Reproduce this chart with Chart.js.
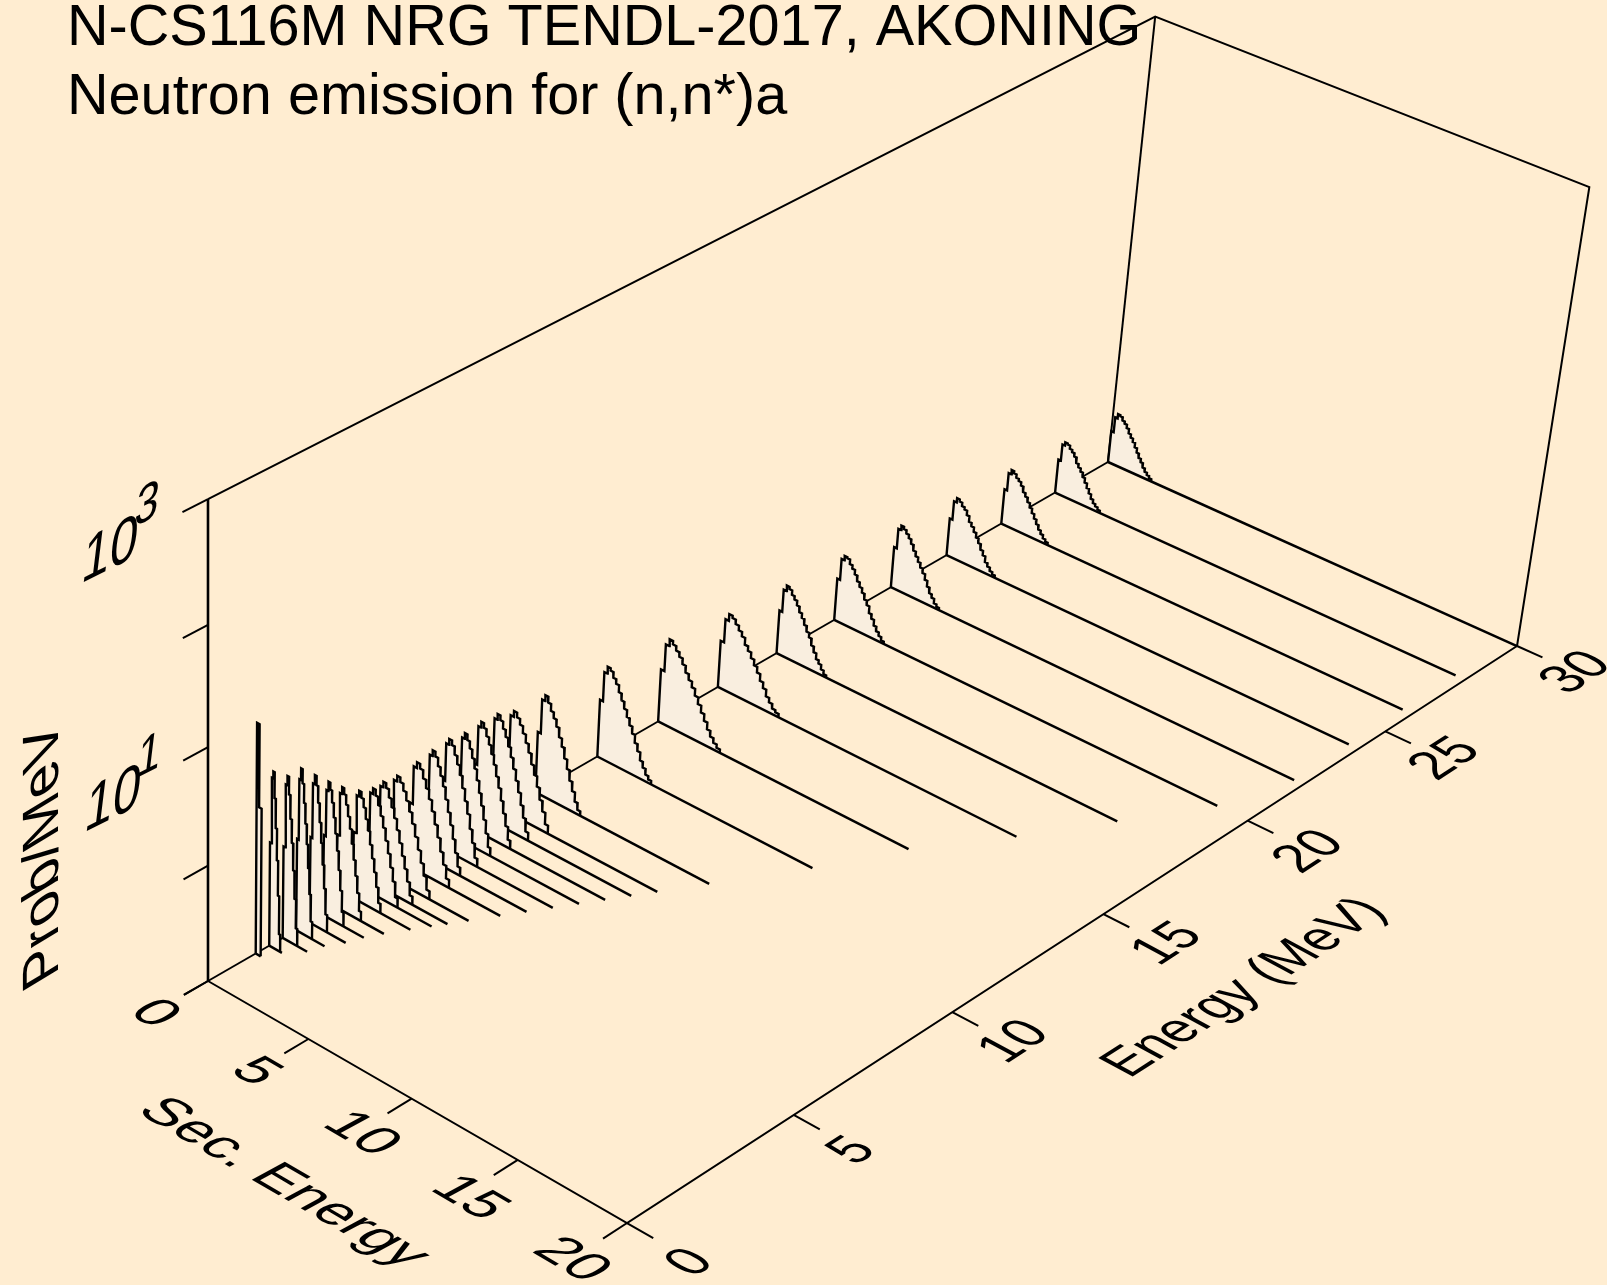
<!DOCTYPE html>
<html>
<head>
<meta charset="utf-8">
<title>N-CS116M neutron emission</title>
<script src="https://cdn.jsdelivr.net/npm/chart.js@4"></script>
<style>
  html, body { margin: 0; padding: 0; background: #FFEDD1; }
  canvas { display: block; }
</style>
</head>
<body>
<canvas id="chart3d" width="1607" height="1285"></canvas>
<script>
const titleLines = ['N-CS116M NRG TENDL-2017, AKONING', 'Neutron emission for (n,n*)a'];
const secTicks = [0, 5, 10, 15, 20];
const energyTicks = [0, 5, 10, 15, 20, 25, 30];
const probTicks = [-1, 0, 1, 2, 3];

// incident energy of each spectrum (MeV), back to front
const incidentEnergy = [30, 28, 26, 24, 22, 20, 18, 16, 14, 12, 10, 9, 8.5, 8, 7.5, 7, 6.5, 6, 5.4, 5, 4.7, 4.3, 3.8, 3.4, 3, 2.6, 2.2, 1.8, 1.4];
// last secondary energy of the base line
const baseEnd = [20, 19.56, 19.56, 19.56, 19.57, 18.6, 16.6, 14.6, 12.3, 10.6, 8.6, 7.6, 7.1, 6.6, 6.1, 5.6, 5.1, 4.6, 4.0, 3.6, 3.3, 2.9, 2.4, 2.06, 1.82, 1.43, 1.23, 0.64, 0.25];
// secondary energy where the spectrum leaves the plot floor
const spectrumEnd = [2.2, 2.27, 2.35, 2.44, 2.43, 2.5, 2.5, 3.05, 3.1, 2.7, 2.25, 2.2, 2.0, 1.9, 1.7, 1.85, 1.8, 2.05, 2.05, 1.85, 1.6, 1.4, 1.25, 1.04, 0.88, 0.8, 0.73, 0.55, 0.25];
// log10(prob/MeV) in equal steps from zero up to spectrumEnd
const log10Prob = [
  [-0.71, -0.57, -0.53, -0.54, -0.57, -0.59, -0.62, -0.66, -0.69, -0.72, -0.76, -0.8, -0.84, -0.87, -0.91, -0.94, -0.96, -0.98],
  [-0.69, -0.54, -0.51, -0.52, -0.55, -0.57, -0.6, -0.65, -0.68, -0.71, -0.75, -0.79, -0.83, -0.87, -0.91, -0.94, -0.96, -0.98],
  [-0.68, -0.52, -0.48, -0.5, -0.53, -0.55, -0.58, -0.63, -0.66, -0.7, -0.74, -0.78, -0.82, -0.86, -0.9, -0.93, -0.96, -0.98],
  [-0.66, -0.49, -0.45, -0.47, -0.5, -0.52, -0.56, -0.61, -0.64, -0.68, -0.72, -0.76, -0.81, -0.85, -0.9, -0.93, -0.96, -0.98],
  [-0.63, -0.45, -0.41, -0.43, -0.46, -0.49, -0.53, -0.58, -0.62, -0.66, -0.7, -0.74, -0.79, -0.84, -0.89, -0.92, -0.96, -0.98],
  [-0.62, -0.43, -0.39, -0.4, -0.44, -0.47, -0.51, -0.56, -0.6, -0.64, -0.69, -0.73, -0.79, -0.83, -0.88, -0.92, -0.95, -0.98],
  [-0.61, -0.41, -0.36, -0.38, -0.42, -0.45, -0.49, -0.54, -0.58, -0.63, -0.68, -0.72, -0.78, -0.83, -0.88, -0.91, -0.95, -0.98],
  [-0.58, -0.37, -0.31, -0.33, -0.37, -0.41, -0.45, -0.51, -0.55, -0.6, -0.65, -0.7, -0.76, -0.81, -0.87, -0.91, -0.95, -0.97],
  [-0.53, -0.29, -0.23, -0.26, -0.3, -0.34, -0.39, -0.45, -0.5, -0.55, -0.61, -0.67, -0.73, -0.79, -0.85, -0.9, -0.94, -0.97],
  [-0.49, -0.23, -0.17, -0.19, -0.24, -0.28, -0.34, -0.4, -0.46, -0.52, -0.58, -0.64, -0.71, -0.77, -0.84, -0.89, -0.94, -0.97],
  [-0.46, -0.16, -0.11, -0.16, -0.22, -0.27, -0.33, -0.41, -0.48, -0.57, -0.65, -0.74, -0.82, -0.9, -0.96],
  [-0.45, -0.14, -0.09, -0.13, -0.18, -0.24, -0.31, -0.38, -0.47, -0.55, -0.64, -0.74, -0.83, -0.93],
  [-0.42, -0.09, -0.04, -0.08, -0.14, -0.2, -0.27, -0.35, -0.44, -0.53, -0.62, -0.72, -0.82, -0.93],
  [-0.42, -0.08, -0.03, -0.07, -0.13, -0.19, -0.26, -0.34, -0.43, -0.52, -0.62, -0.72, -0.82, -0.93],
  [-0.43, -0.1, -0.05, -0.1, -0.16, -0.23, -0.31, -0.4, -0.5, -0.6, -0.71, -0.82, -0.93],
  [-0.4, -0.07, -0.02, -0.06, -0.13, -0.2, -0.28, -0.38, -0.48, -0.58, -0.7, -0.81, -0.93],
  [-0.42, -0.09, -0.04, -0.08, -0.15, -0.22, -0.3, -0.4, -0.5, -0.6, -0.71, -0.82, -0.93],
  [-0.44, -0.11, -0.06, -0.1, -0.17, -0.24, -0.32, -0.41, -0.51, -0.61, -0.72, -0.82, -0.93],
  [-0.45, -0.13, -0.08, -0.12, -0.18, -0.25, -0.33, -0.42, -0.52, -0.62, -0.72, -0.82, -0.93],
  [-0.45, -0.12, -0.07, -0.11, -0.18, -0.25, -0.33, -0.42, -0.52, -0.62, -0.72, -0.82, -0.93],
  [-0.45, -0.13, -0.08, -0.13, -0.2, -0.28, -0.37, -0.47, -0.57, -0.68, -0.79, -0.92],
  [-0.42, -0.09, -0.04, -0.09, -0.16, -0.25, -0.34, -0.45, -0.56, -0.67, -0.79, -0.92],
  [-0.36, 0.01, 0.07, 0.02, -0.06, -0.15, -0.25, -0.37, -0.5, -0.63, -0.77, -0.92],
  [-0.3, 0.1, 0.18, 0.12, 0.02, -0.1, -0.23, -0.37, -0.53, -0.7, -0.88],
  [-0.25, 0.22, 0.3, 0.22, 0.08, -0.08, -0.25, -0.43, -0.63, -0.85],
  [-0.2, 0.32, 0.42, 0.3, 0.14, -0.03, -0.2, -0.4, -0.62, -0.85],
  [-0.2, 0.34, 0.42, 0.27, 0.07, -0.13, -0.36, -0.6, -0.85],
  [-0.1, 0.46, 0.52, 0.3, 0.05, -0.22, -0.52, -0.85],
  [0.98, 0.28]
];

const FILL = '#F9EEDF';
const SEC_MAX = 20, E_MAX = 30, LOG_MIN = -1, LOG_MAX = 3;

// perspective of the box, fitted to its corners in the picture
function project(sec, energy, logP) {
  const u = sec / SEC_MAX, v = energy / E_MAX, t = (logP - LOG_MIN) / (LOG_MAX - LOG_MIN);
  const w = 1 - 0.05474 * u + 0.14356 * v - 0.057 * t;
  return {
    x: (384.7 * u + 1059.06 * v + 208 - 11.86 * t) / w,
    y: (175.07 * u - 452.67 * v + 981 - 510.4 * t) / w
  };
}

const datasets = [];
function addLine(points, width, extra) {
  datasets.push(Object.assign({
    data: points,
    showLine: true,
    pointRadius: 0,
    borderColor: '#000',
    borderWidth: width,
    borderJoinStyle: 'miter',
    fill: false,
    tension: 0
  }, extra || {}));
}

// box, painted first
addLine([project(0, 0, LOG_MIN), project(0, E_MAX, LOG_MIN)], 2);
addLine([project(0, 0, LOG_MAX), project(0, E_MAX, LOG_MAX), project(SEC_MAX, E_MAX, LOG_MAX), project(SEC_MAX, E_MAX, LOG_MIN)], 2);
addLine([project(0, E_MAX, LOG_MIN), project(0, E_MAX, LOG_MAX)], 2);
addLine([project(0, 0, LOG_MIN), project(SEC_MAX, 0, LOG_MIN), project(SEC_MAX, E_MAX, LOG_MIN)], 2);
addLine([project(0, 0, LOG_MIN), project(0, 0, LOG_MAX)], 2.6);

secTicks.forEach(s => addLine([project(s, 0, LOG_MIN), project(s, -0.7, LOG_MIN)], 2));
energyTicks.forEach(e => addLine([project(SEC_MAX, e, LOG_MIN), project(SEC_MAX + 1.18, e, LOG_MIN)], 2));
probTicks.forEach(p => addLine([project(0, 0, p), project(0, -0.7, p)], 2));

// spectra back to front so the nearer ones cover the farther ones
incidentEnergy.forEach((energy, i) => {
  const values = log10Prob[i];
  const step = spectrumEnd[i] / values.length;
  const outline = [project(0, energy, LOG_MIN)];
  values.forEach((logP, k) => {
    outline.push(project(k * step, energy, logP));
    outline.push(project((k + 1) * step, energy, logP));
  });
  outline.push(project(spectrumEnd[i], energy, LOG_MIN));
  addLine(outline, 2.4, { fill: 'shape', backgroundColor: FILL });
  addLine([project(0, energy, LOG_MIN), project(baseEnd[i], energy, LOG_MIN)], 2.5);
});

datasets.forEach((d, i) => { d.order = datasets.length - i; });

// text lying in the planes of the box: center, baseline vector, up vector (per em)
const FLOOR_SEC = { r: [49.5, 29], u: [48, -26] };
const FLOOR_E = { r: [42, -27], u: [-50, -27] };
const WALL = { r: [50, -25], u: [8, -66] };
const WALL_TITLE = { r: [0, -58], u: [-51, 31] };

const planeLabels = [
  ['0', 154, 1014, FLOOR_SEC], ['5', 255, 1072, FLOOR_SEC], ['10', 361, 1134, FLOOR_SEC],
  ['15', 469, 1198, FLOOR_SEC], ['20', 571, 1260, FLOOR_SEC],
  ['Sec. Energy', 283, 1183, FLOOR_SEC],
  ['0', 691, 1263, FLOOR_E], ['5', 853, 1151, FLOOR_E], ['10', 1015, 1042, FLOOR_E],
  ['15', 1168, 944, FLOOR_E], ['20', 1310, 852, FLOOR_E], ['25', 1446, 759, FLOOR_E], ['30', 1577, 673, FLOOR_E],
  ['Energy (MeV)', 1245, 988, FLOOR_E],
  ['Prob/MeV', 44, 854, WALL_TITLE],
  ['10', 110, 552, WALL], ['3', 147, 506, WALL, 0.85],
  ['10', 113, 801, WALL], ['1', 149, 757, WALL, 0.85]
];

const textPlugin = {
  id: 'boxText',
  afterDatasetsDraw(chart) {
    const ctx = chart.ctx;
    const sx = chart.scales.x, sy = chart.scales.y;
    ctx.save();
    ctx.fillStyle = '#000';
    ctx.font = '40px "Liberation Sans"';
    ctx.textAlign = 'center';
    ctx.textBaseline = 'middle';
    planeLabels.forEach(([text, x, y, plane, size]) => {
      const k = (size || 1) / 40;
      ctx.save();
      ctx.transform(plane.r[0] * k, plane.r[1] * k, -plane.u[0] * k, -plane.u[1] * k, sx.getPixelForValue(x), sy.getPixelForValue(y));
      ctx.fillText(text, 0, 0);
      ctx.restore();
    });
    ctx.textAlign = 'left';
    ctx.textBaseline = 'alphabetic';
    ctx.font = '57.6px "Liberation Sans"';
    ctx.fillText(titleLines[0], 67, 45);
    ctx.fillText(titleLines[1], 67, 114);
    ctx.restore();
  }
};

new Chart(document.getElementById('chart3d').getContext('2d'), {
  type: 'scatter',
  data: { datasets },
  options: {
    responsive: false,
    animation: false,
    devicePixelRatio: 1,
    events: [],
    layout: { padding: 0 },
    plugins: { legend: { display: false }, tooltip: { enabled: false } },
    scales: {
      x: { type: 'linear', display: false, min: 0, max: 1607 },
      y: { type: 'linear', display: false, min: 0, max: 1285, reverse: true }
    }
  },
  plugins: [textPlugin]
});
</script>
</body>
</html>
